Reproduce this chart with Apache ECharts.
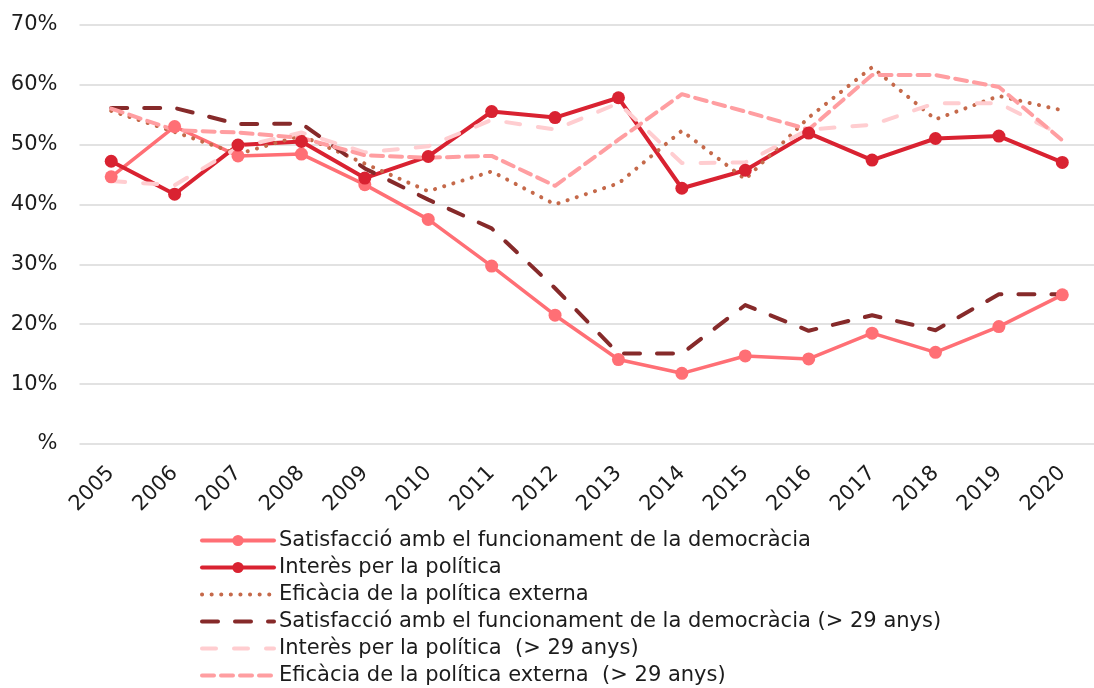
<!DOCTYPE html>
<html>
<head>
<meta charset="utf-8">
<script src="https://cdn.jsdelivr.net/npm/echarts@6/dist/echarts.min.js"></script>
<style>
  html, body { margin: 0; padding: 0; background: #ffffff; }
  #chart { width: 1094px; height: 688px; }
</style>
</head>
<body>
<div id="chart"></div>
<script>
// Years on the horizontal axis
const years = ['2005','2006','2007','2008','2009','2010','2011','2012',
               '2013','2014','2015','2016','2017','2018','2019','2020'];

// Percentages per year
const satisfaccio    = [44.6, 53.0, 48.1, 48.4, 43.3, 37.5, 29.7, 21.5, 14.1, 11.8, 14.7, 14.2, 18.5, 15.3, 19.6, 24.9];
const interes        = [47.2, 41.7, 49.9, 50.5, 44.4, 48.0, 55.5, 54.5, 57.8, 42.7, 45.7, 51.9, 47.4, 51.0, 51.4, 47.0];
const eficacia       = [55.6, 52.1, 48.4, 51.5, 46.8, 42.2, 45.5, 40.0, 43.5, 52.3, 44.2, 54.5, 62.9, 54.2, 58.1, 55.7];
const satisfaccio29  = [56.1, 56.1, 53.4, 53.5, 46.0, 40.8, 36.0, 26.0, 15.1, 15.1, 23.2, 18.9, 21.5, 19.0, 25.0, 25.0];
const interes29      = [43.9, 43.2, 49.5, 52.0, 48.7, 49.7, 54.1, 52.5, 56.9, 46.9, 47.0, 52.5, 53.3, 56.9, 56.9, 51.5];
const eficacia29     = [56.0, 52.4, 52.0, 51.1, 48.2, 47.8, 48.1, 43.1, 50.8, 58.4, 55.5, 52.5, 61.6, 61.6, 59.6, 50.7];

// Series names
const names = [
  'Satisfacció amb el funcionament de la democràcia',
  'Interès per la política',
  'Eficàcia de la política externa',
  'Satisfacció amb el funcionament de la democràcia (> 29 anys)',
  'Interès per la política  (> 29 anys)',
  'Eficàcia de la política externa  (> 29 anys)'
];

const FONT = 'DejaVu Sans';
const TEXT = '#1c1c1c';

const chart = echarts.init(document.getElementById('chart'), null, { renderer: 'canvas' });

function markerLine(name, data, color, width) {
  return {
    name, type: 'line', data,
    symbol: 'circle', symbolSize: 13, showSymbol: true,
    itemStyle: { color },
    lineStyle: { color, width, cap: 'round', join: 'round' },
    emphasis: { disabled: true },
    animation: false
  };
}
function dashLine(name, data, color, width, dash, cap) {
  return {
    name, type: 'line', data,
    symbol: 'none', showSymbol: false,
    itemStyle: { color },
    lineStyle: { color, width, type: dash, cap: cap || 'butt', join: 'round' },
    emphasis: { disabled: true },
    animation: false
  };
}

// Legend entries: lines only for the series drawn without markers
const legendData = names.map((name, i) => (
  i < 2
    ? { name, lineStyle: { width: 4 } }
    : { name, itemStyle: { opacity: 0 }, lineStyle: { width: 4 } }
));

chart.setOption({
  backgroundColor: '#ffffff',
  animation: false,
  grid: { left: 79.5, right: -9.5, top: 24.7, bottom: 244, containLabel: false },
  xAxis: {
    type: 'category',
    data: years,
    boundaryGap: true,
    axisLine: { show: false },
    axisTick: { show: false },
    axisLabel: {
      rotate: 45, margin: 26,
      fontFamily: FONT, fontSize: 21, color: TEXT
    },
    splitLine: { show: false }
  },
  yAxis: {
    type: 'value',
    min: 0, max: 70, interval: 10,
    axisLine: { show: false },
    axisTick: { show: false },
    axisLabel: {
      margin: 22,
      fontFamily: FONT, fontSize: 21, color: TEXT,
      formatter: v => (v === 0 ? '%' : v + '%')
    },
    splitLine: { show: true, lineStyle: { color: '#d9d9d9', width: 1.5 } }
  },
  legend: {
    orient: 'vertical',
    left: 195, top: 525, height: 180,
    itemWidth: 72, itemHeight: 14, itemGap: 6,
    textStyle: { fontFamily: FONT, fontSize: 21, color: TEXT, lineHeight: 21 },
    data: legendData,
    selectedMode: false
  },
  series: [
    markerLine(names[0], satisfaccio, '#ff6f75', 3.5),
    markerLine(names[1], interes, '#d92231', 4),
    dashLine(names[2], eficacia, '#c5694a', 4, [0.1, 9.5], 'round'),
    dashLine(names[3], satisfaccio29, '#862a2a', 4, [16, 17], 'round'),
    dashLine(names[4], interes29, '#ffcdd0', 4, [14, 18], 'round'),
    dashLine(names[5], eficacia29, '#ff9ea1', 4, [12, 7], 'round')
  ]
});
</script>
</body>
</html>
